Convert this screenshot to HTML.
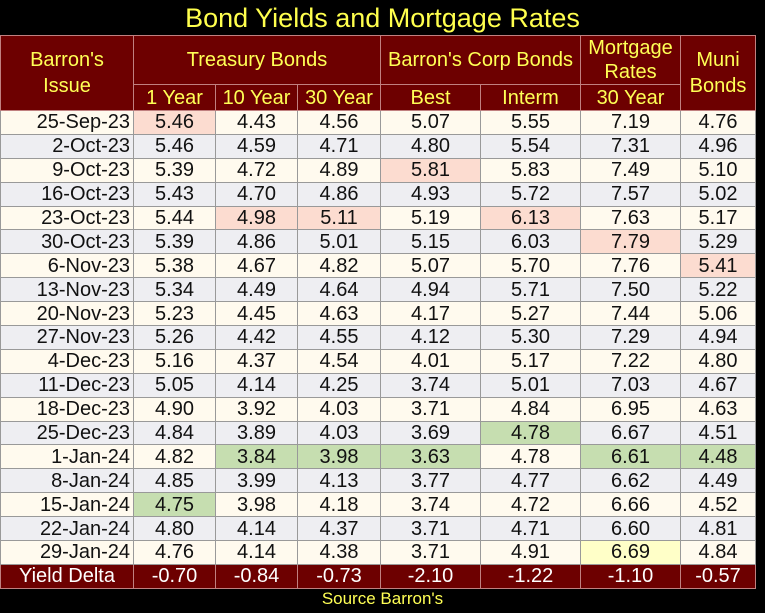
<!DOCTYPE html>
<html><head><meta charset="utf-8"><style>
body{margin:0;width:765px;height:613px;background:#000;overflow:hidden;font-family:"Liberation Sans",Arial,sans-serif;position:relative}
#title{position:absolute;left:0;top:0;width:765px;height:35px;text-align:center;color:#ffff4d;font-size:27px;line-height:36px}
table{position:absolute;left:0;top:35px;border-collapse:collapse;table-layout:fixed}
td{padding:0;text-align:center;font-size:20px;color:#111;border:1px solid #999;height:22.9px;line-height:22px;overflow:hidden;white-space:nowrap}
.h td{background:#6d0000;color:#ffff55;border:1px solid #c08080}
tr.a td{background:#fffaee}
tr.b td{background:#eeeef2}
td.d{text-align:right;padding-right:3px}
tr.a td.p,tr.b td.p{background:#fcdcd0}
tr.a td.g,tr.b td.g{background:#c6deb0}
tr.a td.y,tr.b td.y{background:#ffffc8}
tr.f td{background:#6d0000;color:#fff;border:1px solid #c08080}
#src{position:absolute;left:0;top:589px;width:765px;text-align:center;color:#ffff55;font-size:17px}
</style></head><body>
<div id="title">Bond Yields and Mortgage Rates</div>
<table>
<colgroup><col style="width:133px"><col style="width:82px"><col style="width:82px"><col style="width:83px"><col style="width:100px"><col style="width:100px"><col style="width:100px"><col style="width:75px"></colgroup>
<tr class="h"><td rowspan="2" style="height:73px;line-height:26px">Barron's<br>Issue</td><td colspan="3" style="height:47px">Treasury Bonds</td><td colspan="2">Barron's Corp Bonds</td><td style="line-height:24px">Mortgage<br>Rates</td><td rowspan="2" style="line-height:26px">Muni<br>Bonds</td></tr>
<tr class="h"><td style="height:25px">1 Year</td><td>10 Year</td><td>30 Year</td><td>Best</td><td>Interm</td><td>30 Year</td></tr>
<tbody id="body"></tbody>
<tr class="f"><td>Yield Delta</td><td>-0.70</td><td>-0.84</td><td>-0.73</td><td>-2.10</td><td>-1.22</td><td>-1.10</td><td>-0.57</td></tr>
</table>
<div id="src">Source Barron's</div>
<script>
const dates=["25-Sep-23","2-Oct-23","9-Oct-23","16-Oct-23","23-Oct-23","30-Oct-23","6-Nov-23","13-Nov-23","20-Nov-23","27-Nov-23","4-Dec-23","11-Dec-23","18-Dec-23","25-Dec-23","1-Jan-24","8-Jan-24","15-Jan-24","22-Jan-24","29-Jan-24"];
const t1=["5.46","5.46","5.39","5.43","5.44","5.39","5.38","5.34","5.23","5.26","5.16","5.05","4.90","4.84","4.82","4.85","4.75","4.80","4.76"];
const t10=["4.43","4.59","4.72","4.70","4.98","4.86","4.67","4.49","4.45","4.42","4.37","4.14","3.92","3.89","3.84","3.99","3.98","4.14","4.14"];
const t30=["4.56","4.71","4.89","4.86","5.11","5.01","4.82","4.64","4.63","4.55","4.54","4.25","4.03","4.03","3.98","4.13","4.18","4.37","4.38"];
const best=["5.07","4.80","5.81","4.93","5.19","5.15","5.07","4.94","4.17","4.12","4.01","3.74","3.71","3.69","3.63","3.77","3.74","3.71","3.71"];
const interm=["5.55","5.54","5.83","5.72","6.13","6.03","5.70","5.71","5.27","5.30","5.17","5.01","4.84","4.78","4.78","4.77","4.72","4.71","4.91"];
const mort=["7.19","7.31","7.49","7.57","7.63","7.79","7.76","7.50","7.44","7.29","7.22","7.03","6.95","6.67","6.61","6.62","6.66","6.60","6.69"];
const muni=["4.76","4.96","5.10","5.02","5.17","5.29","5.41","5.22","5.06","4.94","4.80","4.67","4.63","4.51","4.48","4.49","4.52","4.81","4.84"];
const hl={"0-1":"p","4-2":"p","4-3":"p","2-4":"p","4-5":"p","5-6":"p","6-7":"p","16-1":"g","14-2":"g","14-3":"g","14-4":"g","13-5":"g","14-6":"g","14-7":"g","18-6":"y"};
const cols=[t1,t10,t30,best,interm,mort,muni];
const tb=document.getElementById('body');
dates.forEach((d,i)=>{
  const tr=document.createElement('tr');
  tr.className=i%2?'b':'a';
  
  
  const td=document.createElement('td');td.className='d';td.textContent=d;
  
  
  tr.appendChild(td);
  cols.forEach((c,j)=>{
    const x=document.createElement('td');x.textContent=c[i];
    const k=hl[i+'-'+(j+1)];if(k)x.className=k;
    
    
    tr.appendChild(x);
  });
  tb.appendChild(tr);
});
</script>
</body></html>
